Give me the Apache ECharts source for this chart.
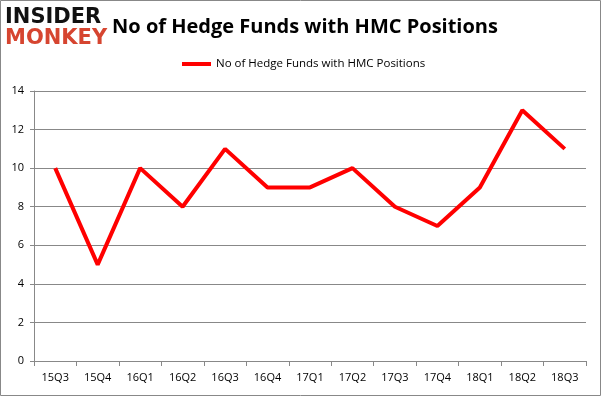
<!DOCTYPE html>
<html>
<head>
<meta charset="utf-8">
<script src="https://cdn.jsdelivr.net/npm/echarts@6/dist/echarts.min.js"></script>
<style>
  html, body { margin: 0; padding: 0; background: #fff; }
  #chart { width: 601px; height: 396px; }
</style>
</head>
<body>
<div id="chart"></div>
<script>
const quarters = ['15Q3', '15Q4', '16Q1', '16Q2', '16Q3', '16Q4', '17Q1', '17Q2', '17Q3', '17Q4', '18Q1', '18Q2', '18Q3'];
const fundCounts = [10, 5, 10, 8, 11, 9, 9, 10, 8, 7, 9, 13, 11];
const seriesName = 'No of Hedge Funds with HMC Positions';

const chart = echarts.init(document.getElementById('chart'));
chart.setOption({
  animation: false,
  backgroundColor: '#fff',
  title: {
    text: 'No of Hedge Funds with HMC Positions',
    left: 300,
    textAlign: 'center',
    top: 12,
    textStyle: { fontFamily: 'Open Sans', fontWeight: 'bold', fontSize: 20, color: '#000' }
  },
  legend: {
    data: [seriesName],
    top: 53,
    left: 177,
    itemWidth: 29,
    itemHeight: 4,
    itemGap: 4,
    icon: 'rect',
    textStyle: { fontFamily: 'Open Sans', fontSize: 11.5, color: '#000' }
  },
  grid: { left: 34, right: 15, top: 91, bottom: 35 },
  xAxis: {
    type: 'category',
    data: quarters,
    boundaryGap: true,
    axisLine: { lineStyle: { color: '#888', width: 1 } },
    axisTick: { show: true, length: 5, lineStyle: { color: '#888' } },
    axisLabel: { color: '#000', fontFamily: 'Open Sans', fontSize: 11, margin: 11 }
  },
  yAxis: {
    type: 'value',
    min: 0,
    max: 14,
    interval: 2,
    axisLine: { show: true, lineStyle: { color: '#888' } },
    axisTick: { show: true, length: 4, lineStyle: { color: '#888' } },
    axisLabel: { color: '#000', fontFamily: 'Open Sans', fontSize: 11, margin: 10 },
    splitLine: { lineStyle: { color: '#888', width: 1 } }
  },
  series: [{
    name: seriesName,
    type: 'line',
    data: fundCounts,
    symbol: 'none',
    lineStyle: { color: '#ff0000', width: 4 },
    itemStyle: { color: '#ff0000' }
  }],
  graphic: [
    {
      type: 'rect',
      shape: { x: 0.5, y: 0.5, width: 600, height: 395 },
      style: { fill: 'none', stroke: '#888', lineWidth: 1 },
      silent: true
    },
    {
      type: 'text',
      left: 5, top: 7,
      style: { text: 'INSIDER', fontFamily: 'DejaVu Sans', fontWeight: 'bold', fontSize: 21, fill: '#111' }
    },
    {
      type: 'text',
      left: 5, top: 28,
      style: { text: 'MONKEY', fontFamily: 'DejaVu Sans', fontWeight: 'bold', fontSize: 21, fill: '#d64530' }
    }
  ]
});
</script>
</body>
</html>
